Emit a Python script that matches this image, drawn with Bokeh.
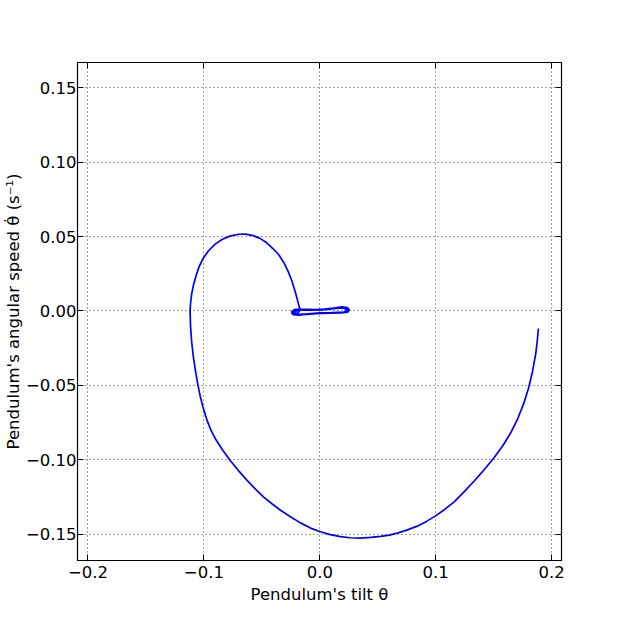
from bokeh.plotting import figure
from bokeh.models import FixedTicker, LinearAxis, Range1d, CustomJSTickFormatter
from bokeh.embed import file_html
from bokeh.resources import INLINE

# Pendulum tilt (theta) and angular speed (theta dot)
theta = [0.1886, 0.1876, 0.1863, 0.1834, 0.1800, 0.1760, 0.1710, 0.1650, 0.1580,
         0.1500, 0.1410, 0.1330, 0.1240, 0.1157, 0.1080, 0.0999, 0.0920, 0.0841,
         0.0750, 0.0668, 0.0600, 0.0524, 0.0440, 0.0351, 0.0260, 0.0179, 0.0090,
         0.0006, -0.0080, -0.0167, -0.0250, -0.0339, -0.0410, -0.0484, -0.0555,
         -0.0627, -0.0700, -0.0771, -0.0840, -0.0901, -0.0940, -0.0972, -0.1003,
         -0.1030, -0.1053, -0.1073, -0.1092, -0.1106, -0.1115, -0.1119,
         -0.1114, -0.1104, -0.1088, -0.1066, -0.1040, -0.1005, -0.0960, -0.0905,
         -0.0840, -0.0770, -0.0700, -0.0640, -0.0580, -0.0520, -0.0460, -0.0405,
         -0.0355, -0.0310, -0.0272, -0.0240, -0.0212, -0.0190, -0.0175, -0.0167,
         -0.0190, -0.0222, -0.0240, -0.0240, -0.0212, -0.0120, -0.0040, 0.0040,
         0.0120, 0.0190, 0.0238, 0.0254, 0.0240, 0.0180, 0.0080, 0.0000, -0.0100,
         -0.0180, -0.0230, -0.0234, -0.0192, -0.0100, 0.0000, 0.0080, 0.0160,
         0.0222, 0.0250, 0.0224, 0.0140, 0.0040, -0.0060, -0.0150, -0.0220,
         -0.0226, -0.0182, -0.0080, 0.0020, 0.0120, 0.0200, 0.0242, 0.0207,
         0.0100, 0.0000, -0.0100, -0.0180, -0.0215]
omega = [-0.0118, -0.0200, -0.0287, -0.0410, -0.0522, -0.0620, -0.0720, -0.0815, -0.0905,
         -0.0990, -0.1075, -0.1145, -0.1220, -0.1285, -0.1333, -0.1378, -0.1415, -0.1447,
         -0.1474, -0.1494, -0.1507, -0.1516, -0.1523, -0.1527, -0.1525, -0.1518, -0.1504,
         -0.1485, -0.1460, -0.1425, -0.1385, -0.1340, -0.1298, -0.1252, -0.1198,
         -0.1139, -0.1075, -0.1007, -0.0933, -0.0859, -0.0800, -0.0736, -0.0660,
         -0.0579, -0.0490, -0.0399, -0.0300, -0.0200, -0.0100, 0.0000,
         0.0060, 0.0120, 0.0180, 0.0240, 0.0300, 0.0355, 0.0405, 0.0448,
         0.0482, 0.0505, 0.0516, 0.0517, 0.0508, 0.0490, 0.0460, 0.0420,
         0.0380, 0.0325, 0.0265, 0.0200, 0.0130, 0.0065, 0.0020, 0.0008,
         -0.0013, -0.0024, -0.0017, -0.0001, 0.0011, 0.0011, 0.0010, 0.0013,
         0.0020, 0.0028, 0.0023, 0.0008, -0.0008, -0.0013, -0.0014, -0.0016, -0.0020,
         -0.0028, -0.0024, -0.0008, 0.0006, 0.0008, 0.0008, 0.0013, 0.0022,
         0.0023, 0.0006, -0.0007, -0.0012, -0.0014, -0.0019, -0.0025, -0.0022,
         -0.0006, 0.0005, 0.0006, 0.0007, 0.0016, 0.0020, 0.0005, -0.0007,
         -0.0011, -0.0013, -0.0019, -0.0022, -0.0012]

x_ticks = [-0.2, -0.1, 0.0, 0.1, 0.2]
x_tick_labels = ["\u22120.2", "\u22120.1", "0.0", "0.1", "0.2"]
y_ticks = [-0.15, -0.10, -0.05, 0.0, 0.05, 0.10, 0.15]
y_tick_labels = ["\u22120.15", "\u22120.10", "\u22120.05", "0.00", "0.05", "0.10", "0.15"]

FONT = "DejaVu Sans"
FS = "16.5px"

p = figure(frame_width=484, frame_height=498,
           x_range=Range1d(-0.209, 0.2085), y_range=Range1d(-0.1678, 0.1671),
           output_backend="svg", toolbar_location=None,
           min_border_left=69, min_border_top=62, min_border_right=40, min_border_bottom=50,
           background_fill_color="white", border_fill_color="white")

p.line(theta, omega, line_color="#0000ff", line_width=1.7, line_join="round")

p.outline_line_color = "black"
p.outline_line_width = 1.2
p.outline_line_alpha = 1.0

xa = p.xaxis[0]
xa.ticker = FixedTicker(ticks=x_ticks)
xa.major_label_overrides = {t: l for t, l in zip(x_ticks, x_tick_labels)}
xa.axis_label = "Pendulum's tilt \u03b8"
ya = p.yaxis[0]
ya.ticker = FixedTicker(ticks=y_ticks)
ya.major_label_overrides = {t: l for t, l in zip(y_ticks, y_tick_labels)}
ya.axis_label = "Pendulum's angular speed \u03b8\u0307 (s\u207b\u00b9)"

for ax in (xa, ya):
    ax.major_tick_in = 6
    ax.major_tick_out = 0
    ax.minor_tick_line_color = None
    ax.axis_line_color = "black"
    ax.major_tick_line_color = "black"
    ax.major_label_text_font = FONT
    ax.major_label_text_font_size = FS
    ax.major_label_text_color = "black"
    ax.axis_label_text_font = FONT
    ax.axis_label_text_font_size = FS
    ax.axis_label_text_font_style = "normal"
    ax.axis_label_text_color = "black"
xa.major_label_standoff = 5
xa.axis_label_standoff = 4
ya.major_label_standoff = 1
ya.axis_label_standoff = 0

for ticks, side in ((x_ticks, "above"), (y_ticks, "right")):
    ax = LinearAxis(ticker=FixedTicker(ticks=ticks),
                    formatter=CustomJSTickFormatter(code="return ''"),
                    major_tick_in=6, major_tick_out=0, minor_tick_line_color=None,
                    axis_line_color="black", major_tick_line_color="black",
                    major_label_standoff=0, major_label_text_font_size="1px")
    p.add_layout(ax, side)

p.xgrid.ticker = FixedTicker(ticks=x_ticks)
p.ygrid.ticker = FixedTicker(ticks=y_ticks)
for g in (p.xgrid, p.ygrid):
    g.grid_line_color = "black"
    g.grid_line_alpha = 0.75
    g.grid_line_width = 1
    g.grid_line_dash = "1 3"

open("out.html", "w").write(file_html(p, INLINE))
